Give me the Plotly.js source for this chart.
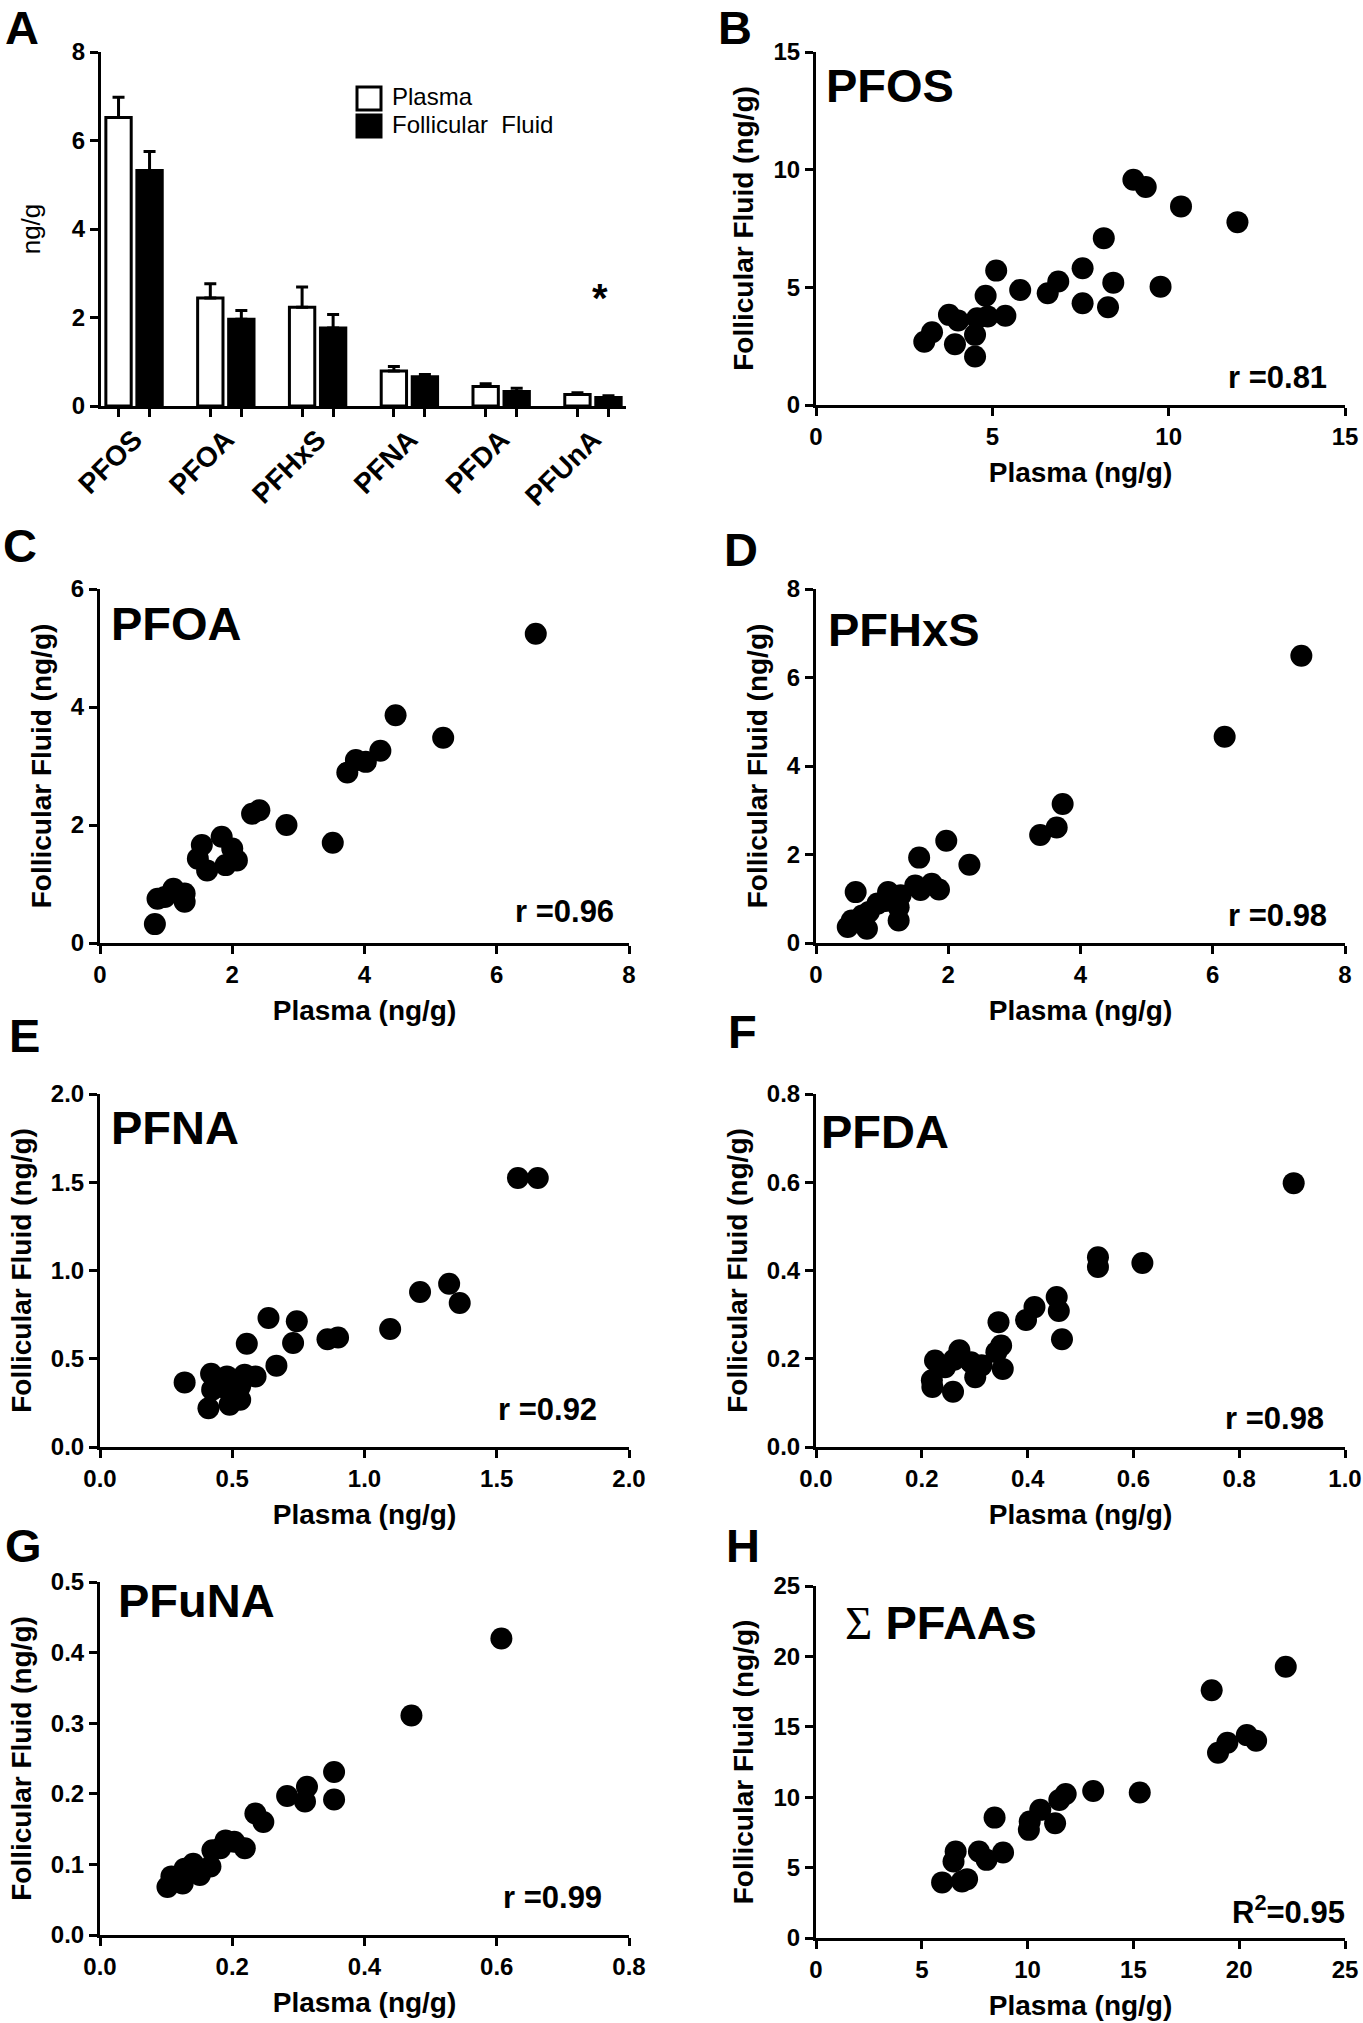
<!DOCTYPE html>
<html>
<head>
<meta charset="utf-8">
<script src="https://cdn.plot.ly/plotly-3.0.1.min.js"></script>
<style>
  html, body { margin: 0; padding: 0; background: #fff; }
  #fig { width: 1363px; height: 2023px; }
</style>
</head>
<body>
<div id="fig"></div>
<script>
// A: mean concentration (ng/g) with upper error bar
var compounds = ['PFOS', 'PFOA', 'PFHxS', 'PFNA', 'PFDA', 'PFUnA'];
var plasmaMean = [6.52, 2.44, 2.23, 0.79, 0.44, 0.26];
var plasmaErr = [0.46, 0.32, 0.46, 0.10, 0.06, 0.04];
var ffMean = [5.32, 1.96, 1.76, 0.66, 0.33, 0.19];
var ffErr = [0.43, 0.20, 0.31, 0.05, 0.07, 0.04];

// B-H: plasma vs follicular fluid, one point per woman
var pfosPlasma = [9.0, 9.35, 10.35, 11.95, 8.16, 7.56, 8.43, 9.77, 6.87, 6.57, 7.56, 8.28, 5.79, 5.11, 4.81, 5.37, 4.87, 4.57, 4.51, 4.51, 3.77, 4.03, 3.94, 3.29, 3.07];
var pfosFF = [9.57, 9.26, 8.44, 7.77, 7.09, 5.81, 5.20, 5.03, 5.25, 4.75, 4.32, 4.15, 4.89, 5.71, 4.64, 3.79, 3.76, 3.69, 2.98, 2.06, 3.83, 3.59, 2.58, 3.09, 2.69];

var pfoaPlasma = [6.59, 4.47, 5.19, 4.24, 4.02, 3.87, 3.74, 2.41, 2.30, 2.82, 3.52, 1.84, 2.0, 1.54, 1.48, 2.07, 1.62, 1.90, 1.11, 1.28, 1.28, 0.87, 0.98, 0.83];
var pfoaFF = [5.24, 3.86, 3.48, 3.26, 3.07, 3.10, 2.89, 2.25, 2.19, 2.00, 1.70, 1.80, 1.60, 1.66, 1.43, 1.40, 1.23, 1.32, 0.92, 0.84, 0.70, 0.75, 0.78, 0.32];

var pfhxsPlasma = [7.34, 6.18, 3.73, 3.64, 3.39, 1.97, 2.32, 1.56, 0.60, 1.75, 1.86, 1.50, 1.58, 1.09, 1.28, 0.93, 1.25, 1.25, 0.80, 0.70, 0.48, 0.77, 0.54, 1.05];
var pfhxsFF = [6.49, 4.66, 3.14, 2.61, 2.44, 2.31, 1.77, 1.93, 1.15, 1.34, 1.21, 1.30, 1.20, 1.15, 1.08, 0.89, 0.81, 0.51, 0.70, 0.62, 0.36, 0.32, 0.51, 0.95];

var pfnaPlasma = [1.58, 1.655, 1.32, 1.36, 1.21, 1.097, 0.90, 0.86, 0.744, 0.637, 0.73, 0.555, 0.667, 0.588, 0.547, 0.42, 0.48, 0.32, 0.424, 0.473, 0.53, 0.53, 0.49, 0.41];
var pfnaFF = [1.524, 1.524, 0.925, 0.816, 0.878, 0.669, 0.62, 0.61, 0.712, 0.731, 0.589, 0.585, 0.461, 0.40, 0.41, 0.415, 0.40, 0.366, 0.325, 0.334, 0.344, 0.268, 0.24, 0.22];

var pfdaPlasma = [0.903, 0.617, 0.533, 0.533, 0.455, 0.459, 0.465, 0.413, 0.397, 0.345, 0.35, 0.341, 0.353, 0.301, 0.313, 0.293, 0.271, 0.261, 0.244, 0.225, 0.22, 0.219, 0.259];
var pfdaFF = [0.598, 0.417, 0.43, 0.408, 0.34, 0.308, 0.244, 0.317, 0.288, 0.283, 0.23, 0.215, 0.177, 0.158, 0.185, 0.192, 0.219, 0.198, 0.181, 0.196, 0.136, 0.151, 0.125];

var pfunaPlasma = [0.607, 0.471, 0.354, 0.354, 0.313, 0.31, 0.283, 0.235, 0.247, 0.219, 0.203, 0.19, 0.182, 0.170, 0.167, 0.151, 0.141, 0.128, 0.125, 0.108, 0.102];
var pfunaFF = [0.42, 0.311, 0.231, 0.192, 0.21, 0.189, 0.197, 0.172, 0.160, 0.123, 0.132, 0.134, 0.123, 0.12, 0.097, 0.085, 0.101, 0.094, 0.073, 0.083, 0.068];

var sumPlasma = [22.2, 18.7, 19.0, 19.44, 20.36, 20.8, 15.3, 13.1, 11.8, 11.5, 10.6, 11.3, 10.1, 10.06, 8.44, 8.84, 7.7, 8.06, 6.6, 6.5, 7.14, 6.9, 5.96];
var sumFF = [19.26, 17.6, 13.16, 13.87, 14.41, 14.01, 10.33, 10.44, 10.23, 9.81, 9.1, 8.15, 8.27, 7.68, 8.55, 6.07, 6.14, 5.55, 6.14, 5.43, 4.18, 4.02, 3.95];

var FONT = 'Arial, "Liberation Sans", sans-serif';
var W = 1363, H = 2023;
function fx(p) { return p / W; }
function fy(p) { return 1 - p / H; }

var BARGAP = 0.324, GROUPGAP = 0.183;

function axisStyle(extra) {
    return Object.assign({
        showline: true, linewidth: 3, linecolor: 'black',
        ticks: 'outside', ticklen: 8, tickwidth: 3, tickcolor: 'black',
        showgrid: false, zeroline: false, automargin: false, fixedrange: true,
        tickfont: { size: 24, weight: 'bold', color: 'black' }
    }, extra);
}

var layout = {
    width: W, height: H,
    margin: { l: 0, r: 0, t: 0, b: 0 },
    paper_bgcolor: 'white', plot_bgcolor: 'white',
    font: { family: FONT, color: 'black' },
    showlegend: false,
    barmode: 'group', bargap: BARGAP, bargroupgap: GROUPGAP,
    annotations: [], shapes: []
};

// panel A bars, one tick under each bar
var idx = compounds.map(function (c, i) { return i; });
var off = (1 - BARGAP) / 4;
var barTicks = [];
idx.forEach(function (i) { barTicks.push(i - off, i + off); });

function zeros(a) { return a.map(function () { return 0; }); }

var data = [
    {
        type: 'bar', x: idx, y: plasmaMean, name: 'Plasma',
        marker: { color: 'white', line: { color: 'black', width: 3 } },
        error_y: { type: 'data', symmetric: false, array: plasmaErr, arrayminus: zeros(plasmaErr), color: 'black', thickness: 3, width: 6 },
        xaxis: 'x', yaxis: 'y', hoverinfo: 'none'
    },
    {
        type: 'bar', x: idx, y: ffMean, name: 'Follicular Fluid',
        marker: { color: 'black', line: { color: 'black', width: 3 } },
        error_y: { type: 'data', symmetric: false, array: ffErr, arrayminus: zeros(ffErr), color: 'black', thickness: 3, width: 6 },
        xaxis: 'x', yaxis: 'y', hoverinfo: 'none'
    }
];

layout.xaxis = axisStyle({
    domain: [fx(101), fx(626)], anchor: 'y', range: [-0.36, 5.36],
    tickvals: idx, ticktext: compounds, tickangle: -45, tickcolor: 'rgba(0,0,0,0)', ticklen: 3,
    tickfont: { size: 28, weight: 'bold', color: 'black' },
    minor: { tickvals: barTicks, ticks: 'outside', ticklen: 8, tickwidth: 3, tickcolor: 'black', showgrid: false }
});
layout.yaxis = axisStyle({
    domain: [fy(406), fy(52)], anchor: 'x', range: [0, 8], dtick: 2,
    title: { text: 'ng/g', font: { size: 26, weight: 'normal' }, standoff: 24 }
});

// legend of panel A
layout.shapes.push(
    { type: 'rect', xref: 'paper', yref: 'paper', x0: fx(357), x1: fx(381), y0: fy(110), y1: fy(87), fillcolor: 'white', line: { color: 'black', width: 3 } },
    { type: 'rect', xref: 'paper', yref: 'paper', x0: fx(357), x1: fx(381), y0: fy(137), y1: fy(115), fillcolor: 'black', line: { color: 'black', width: 3 } }
);
layout.annotations.push(
    { xref: 'paper', yref: 'paper', x: fx(390), y: fy(97), xanchor: 'left', yanchor: 'middle', text: 'Plasma', showarrow: false, font: { size: 24 } },
    { xref: 'paper', yref: 'paper', x: fx(390), y: fy(125), xanchor: 'left', yanchor: 'middle', text: 'Follicular\u00a0 Fluid', showarrow: false, font: { size: 24 } },
    { xref: 'x', yref: 'y', x: 5.08, y: 2.45, text: '*', showarrow: false, font: { size: 40, weight: 'bold' } }
);

// scatter panels
var panels = [
    { n: 2, name: 'PFOS', xs: pfosPlasma, ys: pfosFF, xr: [0, 15], yr: [0, 15], dx: 5, dy: 5, fmt: '', stat: 'r =0.81', box: [816, 1345, 52, 405], tpos: [824, 86], spos: [1329, 378] },
    { n: 3, name: 'PFOA', xs: pfoaPlasma, ys: pfoaFF, xr: [0, 8], yr: [0, 6], dx: 2, dy: 2, fmt: '', stat: 'r =0.96', box: [100, 629, 589, 943], tpos: [109, 623], spos: [616, 911] },
    { n: 4, name: 'PFHxS', xs: pfhxsPlasma, ys: pfhxsFF, xr: [0, 8], yr: [0, 8], dx: 2, dy: 2, fmt: '', stat: 'r =0.98', box: [816, 1345, 589, 943], tpos: [826, 629], spos: [1329, 916] },
    { n: 5, name: 'PFNA', xs: pfnaPlasma, ys: pfnaFF, xr: [0, 2], yr: [0, 2], dx: 0.5, dy: 0.5, fmt: '.1f', stat: 'r =0.92', box: [100, 629, 1094, 1447], tpos: [109, 1127], spos: [599, 1409] },
    { n: 6, name: 'PFDA', xs: pfdaPlasma, ys: pfdaFF, xr: [0, 1], yr: [0, 0.8], dx: 0.2, dy: 0.2, fmt: '.1f', stat: 'r =0.98', box: [816, 1345, 1094, 1447], tpos: [819, 1131], spos: [1326, 1418] },
    { n: 7, name: 'PFuNA', xs: pfunaPlasma, ys: pfunaFF, xr: [0, 0.8], yr: [0, 0.5], dx: 0.2, dy: 0.1, fmt: '.1f', stat: 'r =0.99', box: [100, 629, 1582, 1935], tpos: [116, 1600], spos: [604, 1897] },
    { n: 8, name: '<span style="font-weight:normal;font-family:\'Liberation Serif\',serif">\u03a3</span> PFAAs', xs: sumPlasma, ys: sumFF, xr: [0, 25], yr: [0, 25], dx: 5, dy: 5, fmt: '', stat: 'R<sup>2</sup>=0.95', box: [816, 1345, 1586, 1938], tpos: [843, 1622], spos: [1347, 1910] }
];

panels.forEach(function (p) {
    var xa = 'x' + p.n, ya = 'y' + p.n;
    data.push({
        type: 'scatter', mode: 'markers', x: p.xs, y: p.ys,
        marker: { color: 'black', size: 22 }, cliponaxis: false,
        xaxis: xa, yaxis: ya, hoverinfo: 'none'
    });
    layout['xaxis' + p.n] = axisStyle({
        domain: [fx(p.box[0]), fx(p.box[1])], anchor: ya, range: p.xr, dtick: p.dx, tick0: 0, tickformat: p.fmt,
        title: { text: 'Plasma (ng/g)', font: { size: 28, weight: 'bold' }, standoff: 14 }
    });
    layout['yaxis' + p.n] = axisStyle({
        domain: [fy(p.box[3]), fy(p.box[2])], anchor: xa, range: p.yr, dtick: p.dy, tick0: 0, tickformat: p.fmt,
        title: { text: 'Follicular Fluid (ng/g)', font: { size: 28, weight: 'bold' }, standoff: 12 }
    });
    layout.annotations.push(
        { xref: 'paper', yref: 'paper', x: fx(p.tpos[0]), y: fy(p.tpos[1]), xanchor: 'left', yanchor: 'middle', text: p.name, showarrow: false, font: { size: 47, weight: 'bold' } },
        { xref: 'paper', yref: 'paper', x: fx(p.spos[0]), y: fy(p.spos[1]), xanchor: 'right', yanchor: 'middle', text: p.stat, showarrow: false, font: { size: 31, weight: 'bold' } }
    );
});

// panel letters: [text, left x, y, anchor]
var letters = [['A', 4, 0, 'top'], ['B', 717, 0, 'top'], ['C', 2, 545, 'middle'], ['D', 723, 549, 'middle'],
    ['E', 8, 1035, 'middle'], ['F', 727, 1031, 'middle'], ['G', 4, 1545, 'middle'], ['H', 725, 1545, 'middle']];
letters.forEach(function (l) {
    layout.annotations.push({ xref: 'paper', yref: 'paper', x: fx(l[1]), y: fy(l[2]), xanchor: 'left', yanchor: l[3], borderpad: 0, text: l[0], showarrow: false, font: { size: 47, weight: 'bold' } });
});

Plotly.newPlot('fig', data, layout, { staticPlot: true });
</script>
</body>
</html>
